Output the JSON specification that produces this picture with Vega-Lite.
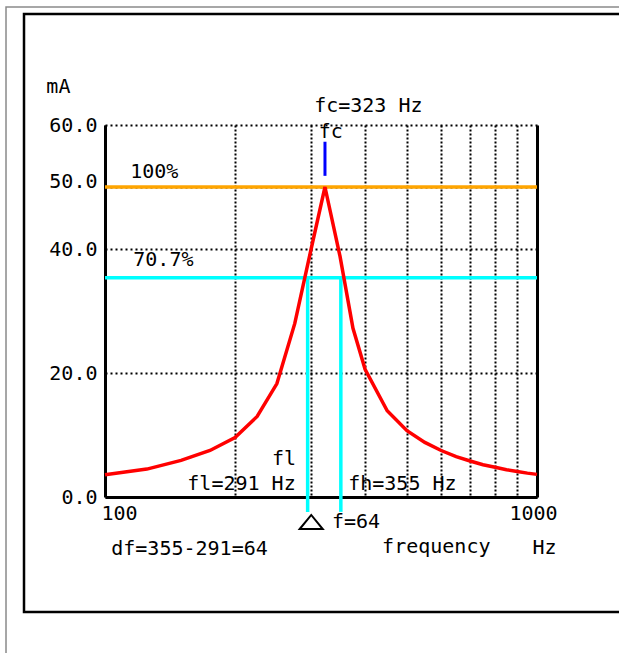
{
  "$schema": "https://vega.github.io/schema/vega-lite/v6.json",
  "width": 432,
  "height": 372,
  "autosize": "none",
  "padding": {"left": 105, "top": 125, "right": 82, "bottom": 156},
  "background": "white",
  "config": {
    "view": {"stroke": null},
    "font": "DejaVu Sans Mono",
    "axis": {"titleFontSize": 0, "titleColor": "transparent"},
    "text": {"font": "DejaVu Sans Mono", "fontSize": 20, "color": "black", "align": "center", "baseline": "alphabetic"}
  },
  "data": {"values": [{}]},
  "datasets": {
    "curve": [
      {"f": 100, "mA": 3.6},
      {"f": 125, "mA": 4.5},
      {"f": 150, "mA": 5.9},
      {"f": 175, "mA": 7.5},
      {"f": 200, "mA": 9.6},
      {"f": 225, "mA": 13.0},
      {"f": 250, "mA": 18.3},
      {"f": 275, "mA": 28.0},
      {"f": 300, "mA": 40.0},
      {"f": 323, "mA": 50.0},
      {"f": 350, "mA": 38.8},
      {"f": 375, "mA": 27.2},
      {"f": 400, "mA": 20.6},
      {"f": 450, "mA": 13.9},
      {"f": 500, "mA": 10.7},
      {"f": 550, "mA": 8.8},
      {"f": 600, "mA": 7.5},
      {"f": 650, "mA": 6.5},
      {"f": 700, "mA": 5.8},
      {"f": 750, "mA": 5.2},
      {"f": 800, "mA": 4.8},
      {"f": 850, "mA": 4.4},
      {"f": 900, "mA": 4.1},
      {"f": 950, "mA": 3.85},
      {"f": 1000, "mA": 3.65}
    ]
  },
  "layer": [
    {
      "mark": {"type": "rect", "fillOpacity": 0, "stroke": "#8a8a8a", "strokeWidth": 1.5},
      "encoding": {"x": {"datum": 59.0}, "x2": {"datum": 3000}, "y": {"datum": 79.03}, "y2": {"datum": -40}}
    },
    {
      "mark": {"type": "rect", "fillOpacity": 0, "stroke": "black", "strokeWidth": 2.5},
      "encoding": {"x": {"datum": 64.94}, "x2": {"datum": 3000}, "y": {"datum": 77.9}, "y2": {"datum": -18.55}}
    },
    {
      "mark": {"type": "rule", "color": "#FFA500", "strokeWidth": 3.5},
      "encoding": {"y": {"datum": 50}}
    },
    {
      "mark": {"type": "rule", "color": "#00FFFF", "strokeWidth": 3.5},
      "encoding": {"y": {"datum": 35.35}}
    },
    {
      "mark": {"type": "rule", "color": "#00FFFF", "strokeWidth": 3.5},
      "encoding": {"x": {"datum": 294.5}, "y": {"datum": 35.35}, "y2": {"datum": -2.4}}
    },
    {
      "mark": {"type": "rule", "color": "#00FFFF", "strokeWidth": 3.5},
      "encoding": {"x": {"datum": 351.5}, "y": {"datum": 35.35}, "y2": {"datum": -2.4}}
    },
    {
      "mark": {"type": "rule", "color": "#0000FF", "strokeWidth": 3},
      "encoding": {"x": {"datum": 323}, "y": {"datum": 57.3}, "y2": {"datum": 51.8}}
    },
    {
      "data": {"name": "curve"},
      "mark": {"type": "line", "color": "#FF0000", "strokeWidth": 3.5, "interpolate": "linear"},
      "encoding": {
        "x": {
          "field": "f", "type": "quantitative",
          "scale": {"type": "log", "domain": [100, 1000], "nice": false},
          "axis": {
            "title": null,
            "values": [100, 200, 300, 400, 500, 600, 700, 800, 900, 1000],
            "labelExpr": "datum.value == 100 ? '100' : (datum.value == 1000 ? '1000' : '')",
            "domainColor": "black", "domainWidth": 3,
            "ticks": false, "tickSize": 0,
            "labelPadding": 6, "labelFont": "DejaVu Sans Mono", "labelFontSize": 20, "labelColor": "black",
            "labelAlign": {"condition": {"test": "datum.value == 100", "value": "left"}, "value": "center"},
            "labelOffset": -4,
            "labelOverlap": false,
            "grid": true, "gridColor": "black", "gridOpacity": 1,
            "gridWidth": {"condition": {"test": "datum.value == 1000", "value": 3}, "value": 2},
            "gridDash": {"condition": {"test": "datum.value == 1000", "value": []}, "value": [2, 2]}
          }
        },
        "y": {
          "field": "mA", "type": "quantitative",
          "scale": {"domain": [0, 60], "nice": false, "zero": false},
          "axis": {
            "title": null,
            "values": [0, 20, 40, 50, 60],
            "format": ".1f",
            "domainColor": "black", "domainWidth": 3,
            "ticks": false, "tickSize": 0,
            "labelPadding": 8, "labelFont": "DejaVu Sans Mono", "labelFontSize": 20, "labelColor": "black",
            "labelBaseline": {"condition": {"test": "datum.value == 50", "value": "alphabetic"}, "value": "middle"},
            "labelOverlap": false,
            "grid": true, "gridColor": "black", "gridOpacity": 1, "gridWidth": 2, "gridDash": [2, 3]
          }
        }
      }
    },
    {
      "mark": {"type": "point", "shape": "M-1,0.61L0,-0.61L1,0.61Z", "size": 529, "filled": false, "stroke": "black", "strokeWidth": 2, "opacity": 1},
      "encoding": {"x": {"datum": 300.2}, "y": {"datum": -4.03}}
    },
    {"mark": {"type": "text", "text": "mA"}, "encoding": {"x": {"datum": 78.0}, "y": {"datum": 65.2}}},
    {"mark": {"type": "text", "text": "fc=323 Hz"}, "encoding": {"x": {"datum": 407}, "y": {"datum": 62.1}}},
    {"mark": {"type": "text", "text": "fc"}, "encoding": {"x": {"datum": 333}, "y": {"datum": 57.9}}},
    {"mark": {"type": "text", "text": "100%"}, "encoding": {"x": {"datum": 130}, "y": {"datum": 51.5}}},
    {"mark": {"type": "text", "text": "70.7%"}, "encoding": {"x": {"datum": 136.5}, "y": {"datum": 37.3}}},
    {"mark": {"type": "text", "text": "fl"}, "encoding": {"x": {"datum": 259.6}, "y": {"datum": 5.16}}},
    {"mark": {"type": "text", "text": "fl=291 Hz"}, "encoding": {"x": {"datum": 207}, "y": {"datum": 1.13}}},
    {"mark": {"type": "text", "text": "fh=355 Hz"}, "encoding": {"x": {"datum": 488}, "y": {"datum": 1.13}}},
    {"mark": {"type": "text", "text": "f=64"}, "encoding": {"x": {"datum": 381}, "y": {"datum": -5.0}}},
    {"mark": {"type": "text", "text": "df=355-291=64"}, "encoding": {"x": {"datum": 156.9}, "y": {"datum": -9.35}}},
    {"mark": {"type": "text", "text": "frequency"}, "encoding": {"x": {"datum": 584.6}, "y": {"datum": -9.05}}},
    {"mark": {"type": "text", "text": "Hz"}, "encoding": {"x": {"datum": 1041}, "y": {"datum": -9.2}}}
  ]
}
